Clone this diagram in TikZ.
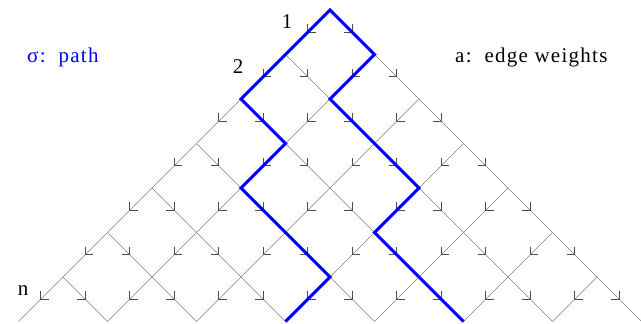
\documentclass[tikz,border=0pt]{standalone}
\usepackage{fontspec}
\setmainfont{Liberation Serif}
\newfontfamily\spacedfont[LetterSpace=6]{Liberation Serif}
\usetikzlibrary{decorations.markings}
\begin{document}
\begin{tikzpicture}[x=1pt,y=-1pt,
  lattice/.style={draw=black!50, line width=0.7pt, postaction={decorate},
    decoration={markings, mark=at position 0.5 with {\draw[draw=black!70, line width=0.6pt] (-5.7,5.7) -- (0,0) -- (-5.7,-5.7);}}},
  sigmapath/.style={draw=blue, line width=3pt},
  lbl/.style={font=\spacedfont\fontsize{21}{21}\selectfont, inner sep=0pt}]
\useasboundingbox (0,0) rectangle (641,324);
% lattice vertices
\foreach \i in {0,...,7}{
  \foreach \j in {0,...,\i}{
    \coordinate (v\i-\j) at ({330+44.5*(2*\j-\i)},{10+44.5*\i});
  }
}
% lattice edges with downward arrow marks
\foreach \i in {0,...,6}{
  \pgfmathtruncatemacro\k{\i+1}
  \foreach \j in {0,...,\i}{
    \pgfmathtruncatemacro\l{\j+1}
    \draw[lattice] (v\i-\j) -- (v\k-\j);
    \draw[lattice] (v\i-\j) -- (v\k-\l);
  }
}
% path sigma
\draw[sigmapath] (v7-3) -- (v6-3) -- (v5-2) -- (v4-1) -- (v3-1) -- (v2-0) -- (v1-0) -- (v0-0)
  -- (v1-1) -- (v2-1) -- (v3-2) -- (v4-3) -- (v5-3) -- (v6-4) -- (v7-5);
% labels
\node[lbl, text=blue, anchor=base west] (sig) at (27,63) {σ:\hspace{13pt}path};
\node[lbl, anchor=base west] (aw) at (455,63) {a:\hspace{13pt}edge weights};
\node[lbl, anchor=base] (r1) at (287,28) {1};
\node[lbl, anchor=base] (r2) at (238,73) {2};
\node[lbl, anchor=base] (rn) at (23,295) {n};
\end{tikzpicture}
\end{document}
